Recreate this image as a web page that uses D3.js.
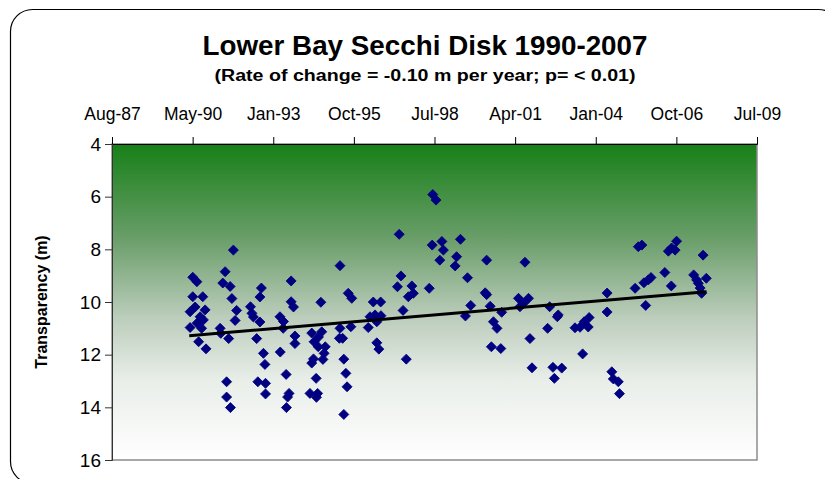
<!DOCTYPE html>
<html>
<head>
<meta charset="utf-8">
<script src="https://cdn.jsdelivr.net/npm/d3@7"></script>
<style>
  body { margin: 0; background: #fff; }
  svg { display: block; font-family: 'Liberation Sans', Arial, sans-serif; }
</style>
</head>
<body>
<div id="chart"></div>
<script>
// sampling dates as decimal years
const sampleYears = [
  1990.26, 1990.35, 1990.49, 1990.35, 1990.69, 1990.26, 1990.43, 1990.60, 1990.77, 1990.71, 1990.65, 1990.55, 1990.80, 1990.50,
  1991.28, 1991.30, 1991.57, 1991.45, 1991.37, 1991.62, 1991.73, 1991.68, 1991.84, 1991.79, 1991.50, 1991.50, 1991.63,
  1992.31, 1992.36, 1992.41, 1992.63, 1992.68, 1992.63, 1992.52, 1992.75, 1992.80, 1992.56, 1992.82, 1992.82,
  1993.31, 1993.43, 1993.42, 1993.69, 1993.69, 1993.77, 1993.82, 1993.82, 1993.32, 1993.52, 1993.62, 1993.57, 1993.53,
  1994.70, 1994.39, 1994.47, 1994.73, 1994.62, 1994.61, 1994.85, 1994.81, 1994.45, 1994.39, 1994.77, 1994.54, 1994.33, 1994.59, 1994.55,
  1995.35, 1995.63, 1995.75, 1995.33, 1995.44, 1995.35, 1995.72, 1995.48, 1995.55, 1995.59, 1995.48,
  1996.48, 1996.73, 1996.37, 1996.54, 1996.74, 1996.31, 1996.60, 1996.60, 1996.67,
  1997.36, 1997.42, 1997.30, 1997.79, 1997.84, 1997.67, 1997.49, 1997.60,
  1998.38, 1998.50, 1998.61, 1998.48, 1998.81, 1998.86, 1999.44, 1998.74, 1999.31, 1999.26, 1999.68,
  2000.33, 2000.28, 2000.33, 1999.79, 1999.61, 2000.45, 2000.84, 2000.56, 2000.68, 2000.49, 2000.81,
  2001.63, 2001.41, 2001.75, 2001.46, 2001.58, 2001.80, 2001.87,
  2002.47, 2002.73, 2002.76, 2002.40, 2002.58, 2002.88, 2002.63,
  2003.33, 2003.50, 2003.64, 2003.81, 2003.78, 2003.59,
  2004.42, 2004.42, 2004.58, 2004.63, 2004.80, 2004.84,
  2005.48, 2005.60, 2005.37, 2005.67, 2005.82, 2005.91, 2005.73,
  2006.38, 2006.60, 2006.50, 2006.61, 2006.78, 2006.73,
  2007.68, 2007.36, 2007.46, 2007.52, 2007.79, 2007.63, 2007.58
];

// secchi depth (m)
const secchiDepth = [
  10.97, 9.06, 9.23, 9.80, 9.80, 10.37, 10.19, 10.56, 10.30, 10.68, 11.00, 11.51, 11.78, 10.80,
  11.00, 11.19, 11.39, 8.85, 9.28, 9.41, 8.03, 9.87, 10.32, 10.70, 13.03, 13.61, 14.01,
  10.18, 10.43, 10.57, 10.76, 9.47, 9.81, 11.39, 11.95, 12.37, 13.03, 13.09, 13.49,
  10.56, 10.74, 11.00, 9.20, 9.99, 10.19, 11.29, 11.58, 11.90, 12.75, 13.47, 13.61, 14.01,
  10.01, 11.18, 11.51, 11.13, 11.33, 11.70, 11.70, 11.95, 12.16, 12.32, 12.18, 12.90, 13.47, 13.47, 13.62,
  8.62, 9.67, 9.86, 11.38, 11.38, 11.00, 10.94, 12.17, 12.71, 13.22, 14.27,
  10.00, 10.00, 10.56, 10.49, 10.52, 10.97, 10.75, 11.55, 11.79,
  7.43, 9.01, 9.42, 9.39, 9.67, 9.80, 10.32, 12.17,
  9.48, 5.92, 6.13, 7.84, 7.70, 8.03, 7.62, 8.41, 8.28, 8.63, 9.08,
  8.41, 9.65, 9.72, 10.13, 10.53, 10.16, 10.39, 10.75, 11.00, 11.70, 11.77,
  8.49, 9.86, 9.86, 10.18, 10.05, 11.39, 12.50,
  10.18, 10.56, 10.49, 11.00, 12.48, 12.51, 12.90,
  10.98, 10.96, 10.75, 10.59, 10.95, 11.97,
  9.66, 10.38, 12.65, 12.92, 13.03, 13.48,
  7.90, 7.84, 9.48, 9.27, 9.16, 9.07, 10.13,
  8.88, 9.39, 8.07, 7.95, 7.69, 8.03,
  8.22, 8.97, 9.16, 9.29, 9.10, 9.67, 9.47
];

// linear trend end points
const trendYears = [1990.23, 2007.80];
const trendDepth = [11.28, 9.61];

const yTicks = [4, 6, 8, 10, 12, 14, 16];
const titleText = 'Lower Bay Secchi Disk 1990-2007';
const subtitleText = '(Rate of change = -0.10 m per year; p= < 0.01)';
const yLabel = 'Transparency (m)';

const width = 825;
const height = 479;
const margin = { top: 144, right: 68, bottom: 19, left: 112 };
const chartWidth = width - margin.left - margin.right;
const chartHeight = height - margin.top - margin.bottom;

function yearToDate(y) {
  const yr = Math.floor(y);
  const s = new Date(yr, 0, 1);
  const e = new Date(yr + 1, 0, 1);
  return new Date(+s + (y - yr) * (e - s));
}

// excel style date axis: 1000 day steps
const xStart = new Date(1987, 7, 11);
const xTicks = d3.range(9).map((i) => d3.timeDay.offset(xStart, i * 1000));

const svg = d3.select('#chart').append('svg')
  .attr('width', width)
  .attr('height', height);

svg.append('rect')
  .attr('x', 10.5).attr('y', 9.5)
  .attr('width', 830).attr('height', 474)
  .attr('rx', 22)
  .attr('fill', '#fff')
  .attr('stroke', '#000')
  .attr('stroke-width', 1.2);

const defs = svg.append('defs');
const grad = defs.append('linearGradient')
  .attr('id', 'bg').attr('x1', 0).attr('x2', 0).attr('y1', 0).attr('y2', 1);
[[0, '#178017'], [0.3, '#6a9e6a'], [0.55, '#bccdbc'], [0.75, '#e9eee9'], [1, '#ffffff']]
  .forEach(([o, c]) => grad.append('stop').attr('offset', o).attr('stop-color', c));

const g = svg.append('g').attr('transform', `translate(${margin.left},${margin.top})`);

const xScale = d3.scaleTime()
  .domain([xTicks[0], xTicks[xTicks.length - 1]])
  .range([0, chartWidth]);

const yScale = d3.scaleLinear()
  .domain([4, 16])
  .range([0, chartHeight]);

g.append('rect')
  .attr('width', chartWidth)
  .attr('height', chartHeight)
  .attr('fill', 'url(#bg)')
  .attr('stroke', '#8c8c8c')
  .attr('stroke-width', 1.5);

const fmt = d3.timeFormat('%b-%y');

const xAxis = g.append('g')
  .attr('class', 'x axis')
  .call(d3.axisTop(xScale).tickValues(xTicks).tickSize(7).tickPadding(0).tickFormat(fmt));
xAxis.select('.domain').attr('stroke', '#000');
xAxis.selectAll('.tick line').attr('stroke', '#000');
xAxis.selectAll('.tick text')
  .attr('y', -24)
  .attr('font-size', 17.5)
  .attr('fill', '#000');

const yAxis = g.append('g')
  .attr('class', 'y axis')
  .call(d3.axisLeft(yScale).tickValues(yTicks).tickSize(7).tickPadding(4));
yAxis.select('.domain').attr('stroke', '#333');
yAxis.selectAll('.tick line').attr('stroke', '#333');
yAxis.selectAll('.tick text')
  .attr('font-size', 19)
  .attr('fill', '#000');

svg.append('text')
  .attr('transform', `translate(47,${margin.top + chartHeight / 2}) rotate(-90)`)
  .attr('text-anchor', 'middle')
  .attr('font-size', 16)
  .attr('font-weight', 'bold')
  .text(yLabel);

svg.append('text')
  .attr('x', 425).attr('y', 55)
  .attr('text-anchor', 'middle')
  .attr('font-size', 27)
  .attr('font-weight', 'bold')
  .attr('textLength', 445)
  .attr('lengthAdjust', 'spacingAndGlyphs')
  .text(titleText);

svg.append('text')
  .attr('x', 425).attr('y', 81)
  .attr('text-anchor', 'middle')
  .attr('font-size', 16)
  .attr('font-weight', 'bold')
  .attr('textLength', 421)
  .attr('lengthAdjust', 'spacingAndGlyphs')
  .text(subtitleText);

const points = d3.zip(sampleYears, secchiDepth);
const diamond = d3.symbol().type(d3.symbolSquare).size(50);

g.selectAll('.dot')
    .data(points)
  .enter().append('path')
    .attr('class', 'dot')
    .attr('d', diamond)
    .attr('transform', (d) => `translate(${xScale(yearToDate(d[0]))},${yScale(d[1])}) rotate(45)`)
    .attr('fill', '#000080')
    .attr('stroke', '#000080')
    .attr('stroke-width', 0.8);

const line = d3.line()
  .x((d) => xScale(yearToDate(d[0])))
  .y((d) => yScale(d[1]));

g.append('path')
  .datum(d3.zip(trendYears, trendDepth))
  .attr('fill', 'none')
  .attr('stroke', '#000')
  .attr('stroke-width', 3)
  .attr('d', line);
</script>
</body>
</html>
